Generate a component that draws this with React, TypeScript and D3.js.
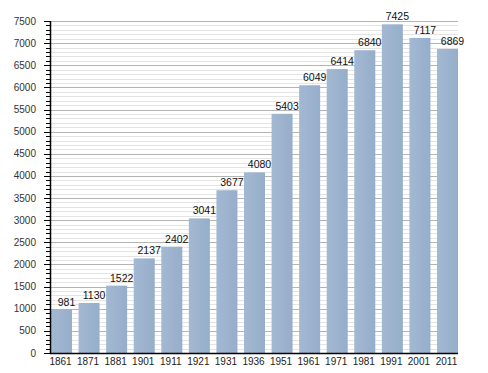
import React, { useEffect, useRef } from "react";
import * as d3 from "d3";

const years = ["1861", "1871", "1881", "1901", "1911", "1921", "1931", "1936", "1951", "1961", "1971", "1981", "1991", "2001", "2011"];
const population = [981, 1130, 1522, 2137, 2402, 3041, 3677, 4080, 5403, 6049, 6414, 6840, 7425, 7117, 6869];
const yTicks = [0, 500, 1000, 1500, 2000, 2500, 3000, 3500, 4000, 4500, 5000, 5500, 6000, 6500, 7000, 7500];

const App = () => {
  const svgRef = useRef<SVGSVGElement>(null);

  useEffect(() => {
    const svg = d3.select(svgRef.current);
    svg.selectAll("*").remove();

    const width = 488,
      height = 373;
    const left = 50,
      right = 458,
      top = 21,
      bottom = 353;

    const data = years.map((y, i) => ({ year: y, value: population[i] }));

    const x = d3.scaleBand().domain(years).range([left + 1, right]).paddingInner(0.238).paddingOuter(0);
    const y = d3.scaleLinear().domain([0, 7500]).range([bottom, top]);

    const font = "'Liberation Sans', Arial, sans-serif";

    // gradient for bars
    const defs = svg.append("defs");
    const grad = defs.append("linearGradient").attr("id", "barGrad").attr("x1", 0).attr("x2", 1).attr("y1", 0).attr("y2", 0);
    grad.append("stop").attr("offset", "0%").attr("stop-color", "#a3b8d2");
    grad.append("stop").attr("offset", "100%").attr("stop-color", "#96aecb");

    // minor grid every 100
    const minor = d3.range(100, 7500, 100).filter((v) => v % 500 !== 0);
    svg
      .append("g")
      .selectAll("line")
      .data(minor)
      .enter()
      .append("line")
      .attr("x1", left)
      .attr("x2", right)
      .attr("y1", (d) => Math.round(y(d)) + 0.5)
      .attr("y2", (d) => Math.round(y(d)) + 0.5)
      .attr("stroke", "#e4e4e4")
      .attr("stroke-width", 1.2);

    // major grid
    svg
      .append("g")
      .selectAll("line")
      .data(yTicks.filter((d) => d > 0))
      .enter()
      .append("line")
      .attr("x1", left)
      .attr("x2", right)
      .attr("y1", (d) => Math.round(y(d)) + 0.5)
      .attr("y2", (d) => Math.round(y(d)) + 0.5)
      .attr("stroke", "#b4b4b4")
      .attr("stroke-width", 1);

    // bars
    svg
      .append("g")
      .selectAll("rect")
      .data(data)
      .enter()
      .append("rect")
      .attr("x", (d) => x(d.year)!)
      .attr("y", (d) => y(d.value))
      .attr("width", x.bandwidth())
      .attr("height", (d) => bottom - y(d.value))
      .attr("fill", "url(#barGrad)");

    // value labels
    svg
      .append("g")
      .selectAll("text")
      .data(data)
      .enter()
      .append("text")
      .attr("x", (d) => x(d.year)! + x.bandwidth() / 2 + 5)
      .attr("y", (d) => y(d.value) - 4)
      .attr("text-anchor", "middle")
      .attr("font-family", font)
      .attr("font-size", "10.5px")
      .attr("fill", "#111")
      .text((d) => d.value);

    // y axis with minor ticks
    const yAxis = svg.append("g");
    yAxis
      .selectAll("line.minor")
      .data(d3.range(0, 7501, 100))
      .enter()
      .append("line")
      .attr("x1", left - 4)
      .attr("x2", left)
      .attr("y1", (d) => Math.round(y(d)) + 0.5)
      .attr("y2", (d) => Math.round(y(d)) + 0.5)
      .attr("stroke", "#000");
    yAxis
      .selectAll("line.major")
      .data(yTicks)
      .enter()
      .append("line")
      .attr("x1", left - 6)
      .attr("x2", left)
      .attr("y1", (d) => Math.round(y(d)) + 0.5)
      .attr("y2", (d) => Math.round(y(d)) + 0.5)
      .attr("stroke", "#000");
    yAxis
      .selectAll("text")
      .data(yTicks)
      .enter()
      .append("text")
      .attr("x", 36)
      .attr("y", (d) => y(d))
      .attr("dy", "0.35em")
      .attr("text-anchor", "end")
      .attr("font-family", font)
      .attr("font-size", "10px")
      .attr("fill", "#333")
      .text((d) => d);
    yAxis
      .append("line")
      .attr("x1", left + 0.5)
      .attr("x2", left + 0.5)
      .attr("y1", top)
      .attr("y2", bottom + 1)
      .attr("stroke", "#000")
      .attr("stroke-width", 1.5);

    // x axis
    svg
      .append("line")
      .attr("x1", left)
      .attr("x2", right)
      .attr("y1", bottom + 0.5)
      .attr("y2", bottom + 0.5)
      .attr("stroke", "#000")
      .attr("stroke-width", 1.5);
    svg
      .append("g")
      .selectAll("text")
      .data(years)
      .enter()
      .append("text")
      .attr("x", (d) => x(d)! + x.bandwidth() / 2 - 1)
      .attr("y", 365)
      .attr("text-anchor", "middle")
      .attr("font-family", font)
      .attr("font-size", "10px")
      .attr("fill", "#222")
      .text((d) => d);

    svg.attr("width", width).attr("height", height);
  }, []);

  return (
    <svg
      ref={svgRef}
      width={488}
      height={373}
      style={{ position: "absolute", left: 0, top: 0, display: "block", background: "#fff" }}
    />
  );
};

export default App;
